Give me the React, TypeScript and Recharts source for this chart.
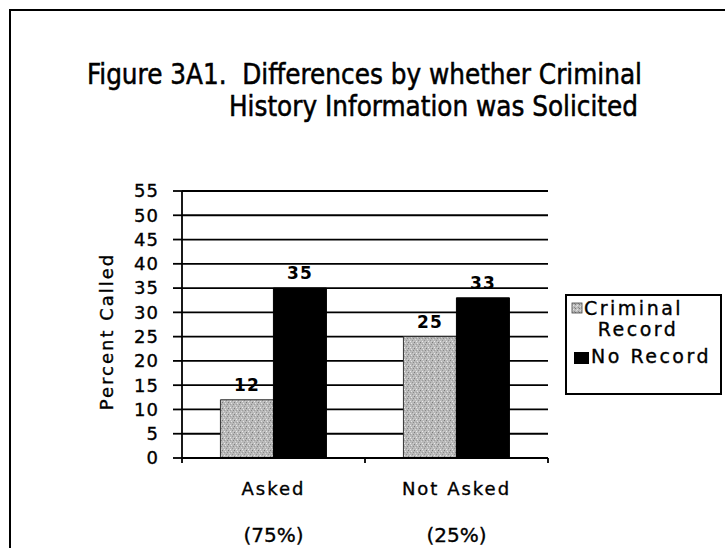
import {
  Bar,
  BarChart,
  CartesianGrid,
  LabelList,
  XAxis,
  YAxis,
} from "recharts";

const categories = ["Asked", "Not Asked"];
const shares = ["(75%)", "(25%)"];
const criminalRecord = [12, 25];
const noRecord = [35, 33];
const yTicks = [0, 5, 10, 15, 20, 25, 30, 35, 40, 45, 50, 55];

const seriesNames = ["Criminal Record", "No Record"];

const AXIS_FONT = '"DejaVu Sans", Verdana, sans-serif';
const TITLE_FONT = '"DejaVu Sans Condensed", "Liberation Sans", Tahoma, sans-serif';
// scanned print looks heavier than a plain regular weight
const INK = { stroke: "#000", strokeWidth: 0.35 };

const data = categories.map((category, i) => ({
  category,
  criminal: criminalRecord[i],
  none: noRecord[i],
}));

// Excel puts the category tick marks between the groups, not under them
function CategoryTick({ x, y, payload, index, visibleTicksCount }: any) {
  const half = payload?.offset ?? 0;
  const last = index === (visibleTicksCount ?? categories.length) - 1;
  return (
    <g>
      {half > 0 && (
        <line x1={x - half} x2={x - half} y1={y} y2={y + 5} stroke="#000" strokeWidth={1.8} />
      )}
      {half > 0 && last && (
        <line x1={x + half} x2={x + half} y1={y} y2={y + 5} stroke="#000" strokeWidth={1.8} />
      )}
      <text
        x={x}
        y={y + 37}
        textAnchor="middle"
        fontFamily={AXIS_FONT}
        fontSize={18}
        letterSpacing={2}
        fill="#000"
        {...INK}
      >
        {payload.value}
      </text>
      <text
        x={x}
        y={y + 84}
        textAnchor="middle"
        fontFamily={AXIS_FONT}
        fontSize={20}
        fill="#000"
        {...INK}
      >
        {shares[index]}
      </text>
    </g>
  );
}

function YTitle({ viewBox }: any) {
  const cx = viewBox.x + 44;
  const cy = viewBox.y + viewBox.height / 2 + 7;
  return (
    <text
      x={cx}
      y={cy}
      transform={`rotate(-90 ${cx} ${cy})`}
      textAnchor="middle"
      dominantBaseline="central"
      fontFamily={AXIS_FONT}
      fontSize={18}
      letterSpacing={2}
      fill="#000"
      {...INK}
    >
      Percent Called
    </text>
  );
}

function LegendBox() {
  const textProps = {
    fontFamily: AXIS_FONT,
    fontSize: 19,
    letterSpacing: 2.5,
    fill: "#000",
    ...INK,
  };
  return (
    <div
      style={{
        position: "absolute",
        left: 565,
        top: 294,
        width: 157,
        height: 101,
        border: "2px solid #000",
        boxSizing: "border-box",
        background: "#fff",
      }}
    >
      <svg width={153} height={97} style={{ display: "block" }}>
        <defs>
          <pattern id="legendSpeckle" width={4} height={4} patternUnits="userSpaceOnUse">
            <rect width={4} height={4} fill="#bcbcbc" />
            <rect x={0} y={0} width={1} height={1} fill="#7a7a7a" />
            <rect x={2} y={1} width={1} height={1} fill="#e6e6e6" />
            <rect x={3} y={3} width={1} height={1} fill="#8c8c8c" />
            <rect x={1} y={2} width={1} height={1} fill="#dcdcdc" />
          </pattern>
        </defs>
        <rect x={5} y={7} width={10} height={10} fill="url(#legendSpeckle)" stroke="#444" strokeWidth={0.8} />
        <text x={17} y={19} {...textProps}>
          {seriesNames[0].split(" ")[0]}
        </text>
        <text x={71} y={40} textAnchor="middle" {...textProps}>
          {seriesNames[0].split(" ")[1]}
        </text>
        <rect x={7} y={56} width={15} height={12} fill="#000" />
        <text x={24} y={67} {...textProps}>
          {seriesNames[1]}
        </text>
      </svg>
    </div>
  );
}

export default function App() {
  return (
    <div
      style={{
        position: "fixed",
        left: 0,
        top: 0,
        width: 725,
        height: 548,
        background: "#fff",
        overflow: "hidden",
      }}
    >
      <div
        style={{
          position: "absolute",
          left: 9,
          top: 9,
          width: 740,
          height: 600,
          border: "2px solid #000",
          boxSizing: "border-box",
        }}
      />
      <svg
        width={725}
        height={140}
        style={{ position: "absolute", left: 0, top: 0 }}
      >
        <text
          x={87}
          y={84}
          fontFamily={TITLE_FONT}
          fontSize={28}
          textLength={555}
          lengthAdjust="spacingAndGlyphs"
          style={{ whiteSpace: "pre" }}
          fill="#000"
          stroke="#000"
          strokeWidth={0.5}
        >
          {"Figure 3A1.  Differences by whether Criminal"}
        </text>
        <text
          x={229}
          y={116}
          fontFamily={TITLE_FONT}
          fontSize={28}
          textLength={409}
          lengthAdjust="spacingAndGlyphs"
          fill="#000"
          stroke="#000"
          strokeWidth={0.5}
        >
          History Information was Solicited
        </text>
      </svg>
      <div style={{ position: "absolute", left: 0, top: 0 }}>
        <BarChart
          width={725}
          height={548}
          data={data}
          margin={{ top: 191, right: 177, left: 62, bottom: 0 }}
          barCategoryGap="21%"
          barGap={0}
        >
          <defs>
            <pattern id="speckle" width={6} height={6} patternUnits="userSpaceOnUse">
              <rect width={6} height={6} fill="#b9b9b9" />
              <rect x={0} y={0} width={1} height={1} fill="#7c7c7c" />
              <rect x={3} y={1} width={1} height={1} fill="#e4e4e4" />
              <rect x={5} y={2} width={1} height={1} fill="#8a8a8a" />
              <rect x={1} y={3} width={1} height={1} fill="#d8d8d8" />
              <rect x={4} y={4} width={1} height={1} fill="#949494" />
              <rect x={2} y={5} width={1} height={1} fill="#eaeaea" />
              <rect x={2} y={2} width={1} height={1} fill="#9e9e9e" />
              <rect x={5} y={5} width={1} height={1} fill="#cfcfcf" />
            </pattern>
          </defs>
          <CartesianGrid
            xAxisId="cat"
            yAxisId="val"
            vertical={false}
            stroke="#000"
            strokeWidth={1.8}
          />
          <XAxis
            xAxisId="cat"
            dataKey="category"
            height={90}
            interval={0}
            tickSize={0}
            tickMargin={0}
            tickLine={false}
            axisLine={{ stroke: "#000", strokeWidth: 1.8 }}
            tick={<CategoryTick />}
          />
          <YAxis
            yAxisId="val"
            width={120}
            domain={[0, 55]}
            ticks={yTicks}
            interval={0}
            tickSize={9}
            tickMargin={14}
            axisLine={{ stroke: "#000", strokeWidth: 1.8 }}
            tickLine={{ stroke: "#000", strokeWidth: 1.8 }}
            tick={{
              fill: "#000",
              fontSize: 18,
              fontFamily: AXIS_FONT,
              letterSpacing: 1,
              ...INK,
            }}
            label={<YTitle />}
          />
          <YAxis
            yAxisId="frame"
            orientation="right"
            width={0}
            domain={[0, 55]}
            tick={false}
            tickLine={false}
            axisLine={{ stroke: "#000", strokeWidth: 1.8 }}
          />
          <Bar
            xAxisId="cat"
            yAxisId="val"
            dataKey="criminal"
            name={seriesNames[0]}
            fill="url(#speckle)"
            stroke="#333"
            strokeWidth={1}
            isAnimationActive={false}
          >
            <LabelList
              dataKey="criminal"
              position="top"
              offset={9}
              fill="#000"
              style={{ fontFamily: AXIS_FONT, fontSize: 17, fontWeight: "bold", letterSpacing: 1 }}
            />
          </Bar>
          <Bar
            xAxisId="cat"
            yAxisId="val"
            dataKey="none"
            name={seriesNames[1]}
            fill="#000"
            stroke="#000"
            strokeWidth={1}
            isAnimationActive={false}
          >
            <LabelList
              dataKey="none"
              position="top"
              offset={9}
              fill="#000"
              style={{ fontFamily: AXIS_FONT, fontSize: 17, fontWeight: "bold", letterSpacing: 1 }}
            />
          </Bar>
        </BarChart>
      </div>
      <LegendBox />
    </div>
  );
}
